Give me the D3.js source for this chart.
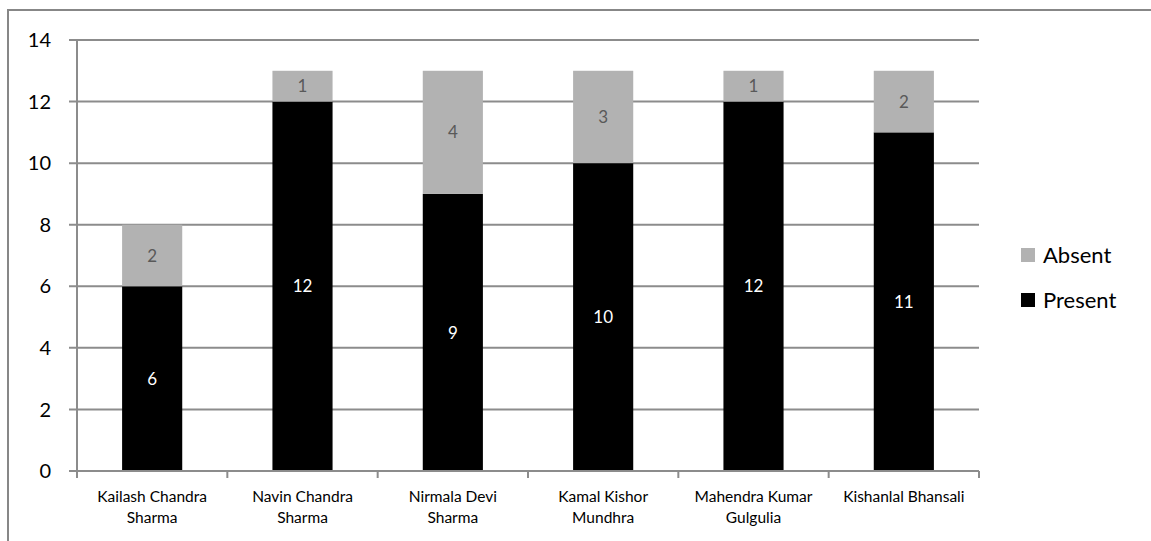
<!DOCTYPE html>
<html>
<head>
<meta charset="utf-8">
<script src="https://cdn.jsdelivr.net/npm/d3@7"></script>
<style>
  body { margin: 0; background: #fff; }
  svg { font-family: "Lato", "Open Sans", sans-serif; }
</style>
</head>
<body>
<div id="chart"></div>
<script>
var names = [
  ["Kailash Chandra", "Sharma"],
  ["Navin Chandra", "Sharma"],
  ["Nirmala Devi", "Sharma"],
  ["Kamal Kishor", "Mundhra"],
  ["Mahendra Kumar", "Gulgulia"],
  ["Kishanlal Bhansali"]
];
var present = [6, 12, 9, 10, 12, 11];
var absent = [2, 1, 4, 3, 1, 2];
var yTicks = [0, 2, 4, 6, 8, 10, 12, 14];
var seriesNames = ["Absent", "Present"];

var svgWidth = 1151;
var svgHeight = 541;
var margin = { top: 40, right: 172, bottom: 70, left: 77 };
var width = 979 - margin.left;
var height = 471 - margin.top;

var svg = d3.select("#chart")
  .append("svg")
  .attr("width", svgWidth)
  .attr("height", svgHeight);

// outer chart border
svg.append("rect")
  .attr("x", 8)
  .attr("y", 10)
  .attr("width", svgWidth)
  .attr("height", svgHeight)
  .attr("fill", "none")
  .attr("stroke", "#878787")
  .attr("stroke-width", 2);

var chartGroup = svg.append("g")
  .attr("transform", `translate(${margin.left}, ${margin.top})`);

var data = names.map(function(n, i) {
  return { key: i, present: present[i], absent: absent[i] };
});

var xScale = d3.scaleBand()
  .domain(d3.range(names.length))
  .range([0, width])
  .paddingInner(0.6)
  .paddingOuter(0.3);

var yScale = d3.scaleLinear()
  .domain([0, 14])
  .range([height, 0]);

// gridlines
chartGroup.selectAll(".grid")
  .data(yTicks)
  .enter()
  .append("line")
  .attr("x1", -8)
  .attr("x2", width)
  .attr("y1", d => yScale(d))
  .attr("y2", d => yScale(d))
  .attr("stroke", "#8c8c8c")
  .attr("stroke-width", 2);

// y tick labels
chartGroup.selectAll(".ytick")
  .data(yTicks)
  .enter()
  .append("text")
  .attr("x", -26)
  .attr("y", d => yScale(d))
  .attr("dy", "0.36em")
  .attr("text-anchor", "end")
  .attr("font-size", "20px")
  .attr("fill", "#000")
  .text(d => d);

// stacked bars
var stack = d3.stack().keys(["present", "absent"]);
var layers = stack(data);
var colors = { present: "#000000", absent: "#b2b2b2" };
var labelColors = { present: "#ffffff", absent: "#595959" };

layers.forEach(function(layer) {
  var g = chartGroup.append("g");
  g.selectAll("rect")
    .data(layer)
    .enter()
    .append("rect")
    .attr("x", (d, i) => xScale(i))
    .attr("width", xScale.bandwidth())
    .attr("y", d => yScale(d[1]))
    .attr("height", d => yScale(d[0]) - yScale(d[1]))
    .attr("fill", colors[layer.key]);

  g.selectAll("text")
    .data(layer)
    .enter()
    .append("text")
    .attr("x", (d, i) => xScale(i) + xScale.bandwidth() / 2)
    .attr("y", d => yScale((d[0] + d[1]) / 2))
    .attr("dy", "0.36em")
    .attr("text-anchor", "middle")
    .attr("font-size", "17px")
    .attr("fill", labelColors[layer.key])
    .text(d => d[1] - d[0]);
});

// axes lines
chartGroup.append("line")
  .attr("x1", 0).attr("x2", 0)
  .attr("y1", 0).attr("y2", height)
  .attr("stroke", "#8c8c8c").attr("stroke-width", 2);

chartGroup.append("line")
  .attr("x1", -8).attr("x2", width)
  .attr("y1", height).attr("y2", height)
  .attr("stroke", "#8c8c8c").attr("stroke-width", 2);

// category ticks
var step = width / names.length;
chartGroup.selectAll(".xtick")
  .data(d3.range(names.length + 1))
  .enter()
  .append("line")
  .attr("x1", d => d * step)
  .attr("x2", d => d * step)
  .attr("y1", height)
  .attr("y2", height + 7)
  .attr("stroke", "#8c8c8c")
  .attr("stroke-width", 2);

// category labels
names.forEach(function(lines, i) {
  var t = chartGroup.append("text")
    .attr("x", xScale(i) + xScale.bandwidth() / 2)
    .attr("y", height + 31)
    .attr("text-anchor", "middle")
    .attr("font-size", "15.5px")
    .attr("fill", "#000");
  lines.forEach(function(l, j) {
    t.append("tspan")
      .attr("x", xScale(i) + xScale.bandwidth() / 2)
      .attr("dy", j === 0 ? 0 : 21)
      .text(l);
  });
});

// legend
var legend = svg.append("g")
  .attr("transform", "translate(1021, 255)");

seriesNames.forEach(function(s, i) {
  var key = s.toLowerCase();
  legend.append("rect")
    .attr("x", 0)
    .attr("y", i * 45 - 7)
    .attr("width", 14)
    .attr("height", 14)
    .attr("fill", colors[key]);
  legend.append("text")
    .attr("x", 22)
    .attr("y", i * 45)
    .attr("dy", "0.36em")
    .attr("font-size", "22px")
    .attr("fill", "#000")
    .text(s);
});
</script>
</body>
</html>
